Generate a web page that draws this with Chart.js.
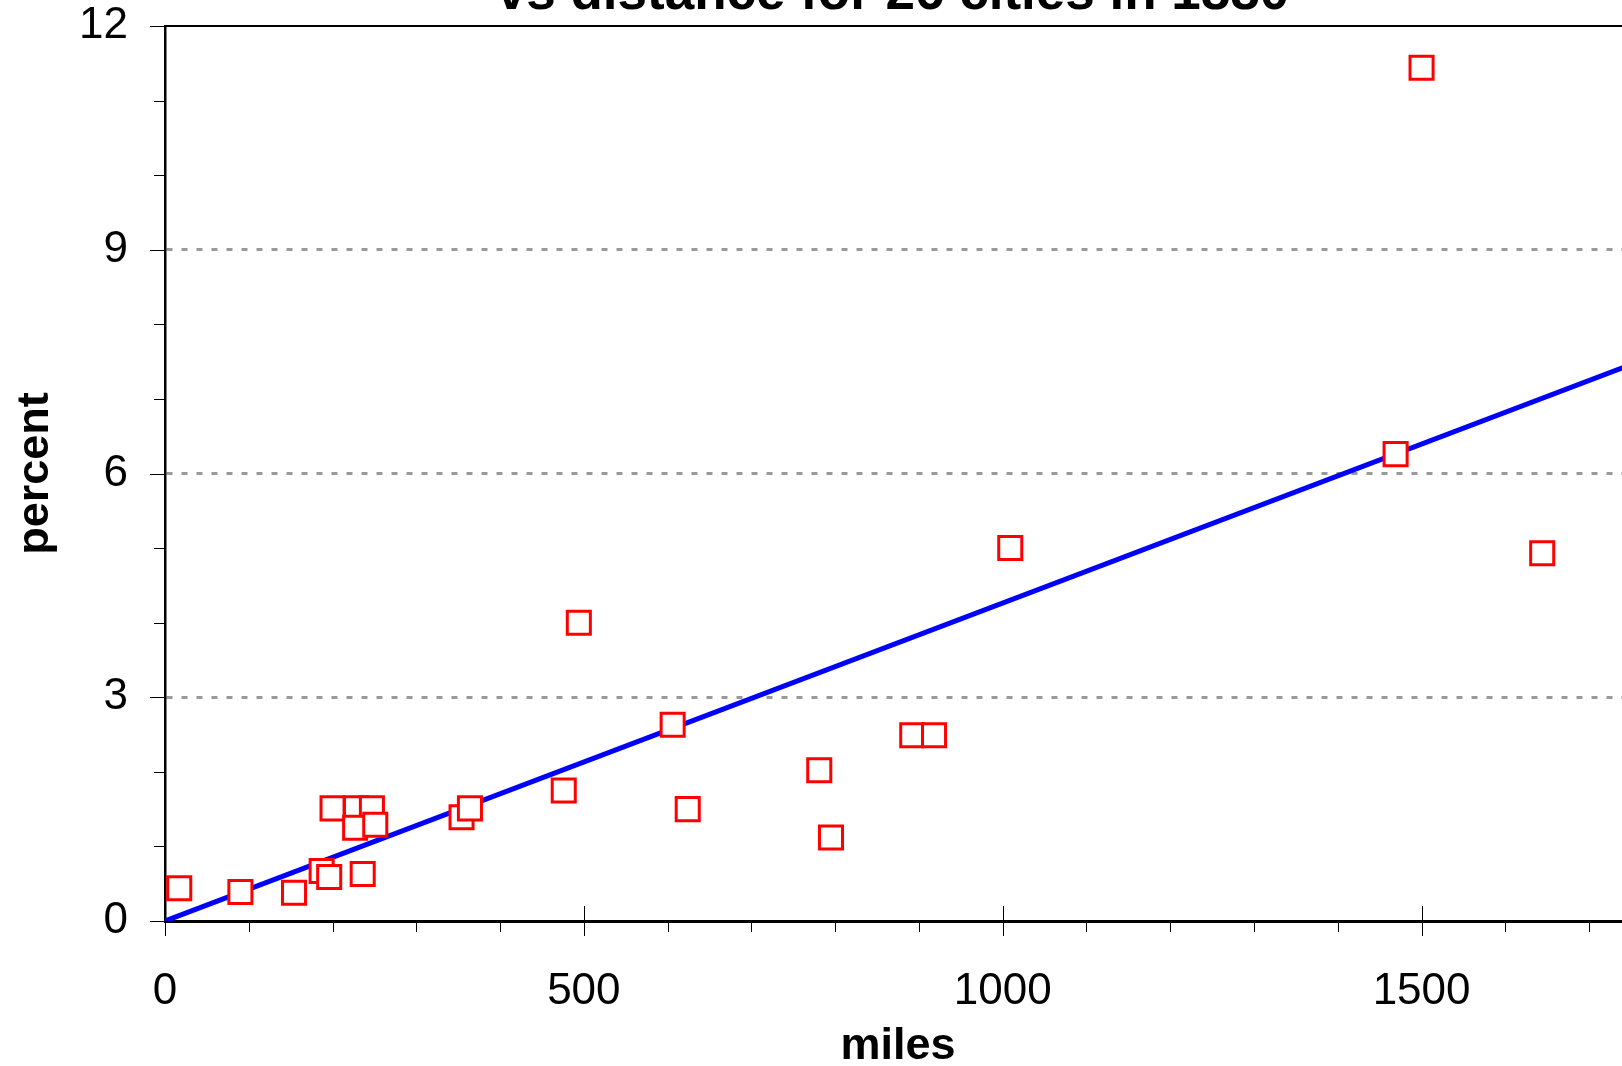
<!DOCTYPE html>
<html>
<head>
<meta charset="utf-8">
<title>percent vs miles</title>
<script src="https://cdn.jsdelivr.net/npm/chart.js@4.4.1/dist/chart.umd.min.js"></script>
<style>
  html, body { margin: 0; padding: 0; background: #fff; overflow: hidden; }
  body { width: 1622px; height: 1066px; position: relative; }
  #myChart { position: absolute; left: 0; top: -60px; }
</style>
</head>
<body>
<canvas id="myChart" width="1786" height="1126"></canvas>
<script>
// distance (miles) and percent for each city
const miles = [17, 90, 154, 187, 196, 236, 200, 228, 247, 227, 251, 354, 364, 476, 494, 606, 624, 781, 795, 892, 918, 1009, 1469, 1500, 1644];
const percent = [0.44, 0.39, 0.38, 0.67, 0.59, 0.63, 1.51, 1.51, 1.51, 1.25, 1.29, 1.39, 1.51, 1.75, 4.00, 2.63, 1.50, 2.02, 1.12, 2.49, 2.49, 5.00, 6.26, 11.44, 4.93];

// fitted line, just its two ends
const fitMiles = [0, 1750];
const fitPercent = [0, 7.46];

// ticks and labels
const xTicks = [0, 100, 200, 300, 400, 500, 600, 700, 800, 900, 1000, 1100, 1200, 1300, 1400, 1500, 1600, 1700];
const xLabels = [0, 500, 1000, 1500];
const yTicks = [0, 1, 2, 3, 4, 5, 6, 7, 8, 9, 10, 11, 12];
const yLabels = [0, 3, 6, 9, 12];
const yDashed = [3, 6, 9];

const titleText = 'vs distance for 26 cities in 1880';
const xTitle = 'miles';
const yTitle = 'percent';

Chart.defaults.font.family = '"Liberation Sans", Arial, Helvetica, sans-serif';
Chart.defaults.color = '#000';

const ctx = document.getElementById('myChart');

// tick marks (long ones at labels) and the top frame line
const tickMarks = {
  id: 'tickMarks',
  beforeDatasetsDraw(chart) {
    const c = chart.ctx;
    const area = chart.chartArea;
    const x = chart.scales.x;
    const y = chart.scales.y;
    c.save();
    c.strokeStyle = '#000';
    c.lineWidth = 1;
    x.ticks.forEach(function(t) {
      const px = Math.round(x.getPixelForValue(t.value)) + 0.5;
      const major = xLabels.includes(t.value);
      c.beginPath();
      c.moveTo(px, area.bottom - (major ? 15 : 0));
      c.lineTo(px, area.bottom + (major ? 15 : 11));
      c.stroke();
    });
    y.ticks.forEach(function(t) {
      const py = Math.round(y.getPixelForValue(t.value)) + 0.5;
      const major = yLabels.includes(t.value);
      c.beginPath();
      c.moveTo(area.left - (major ? 15 : 11), py);
      c.lineTo(area.left, py);
      c.stroke();
    });
    c.lineWidth = 2;
    c.beginPath();
    c.moveTo(area.left, area.top);
    c.lineTo(area.right, area.top);
    c.stroke();
    c.restore();
  }
};

const data = {
  datasets: [
    {
      label: 'cities',
      data: miles.map((m, i) => ({x: m, y: percent[i]})),
      pointStyle: 'rect',
      pointRadius: 16.3,
      pointHoverRadius: 16.3,
      pointBorderWidth: 3,
      pointBorderColor: '#ff0000',
      pointBackgroundColor: '#ffffff',
      order: 0
    },
    {
      label: 'fit',
      data: fitMiles.map((m, i) => ({x: m, y: fitPercent[i]})),
      showLine: true,
      borderColor: '#0000ff',
      borderWidth: 5,
      pointRadius: 0,
      order: 1
    }
  ]
};

const config = {
  type: 'scatter',
  data: data,
  options: {
    responsive: false,
    animation: false,
    layout: { padding: 0 },
    plugins: {
      legend: { display: false },
      tooltip: { enabled: false },
      title: {
        display: true,
        text: titleText,
        color: '#000',
        font: { size: 53, weight: 'bold', lineHeight: 1 },
        padding: { top: 28, bottom: 5 }
      }
    },
    scales: {
      x: {
        type: 'linear',
        min: 0,
        max: 1750,
        afterBuildTicks(scale) { scale.ticks = xTicks.map(v => ({value: v})); },
        afterFit(scale) { scale.height = 145; },
        grid: { display: false, drawTicks: false },
        border: { display: true, color: '#000', width: 3 },
        ticks: {
          autoSkip: false,
          maxRotation: 0,
          padding: 44,
          color: '#000',
          font: { size: 44, lineHeight: 1.2 },
          callback: v => xLabels.includes(v) ? String(v) : ''
        },
        title: {
          display: true,
          text: xTitle,
          color: '#000',
          font: { size: 45, weight: 'bold', lineHeight: 0.87 },
          padding: { top: 0, bottom: 0 }
        }
      },
      y: {
        type: 'linear',
        min: 0,
        max: 12,
        afterBuildTicks(scale) { scale.ticks = yTicks.map(v => ({value: v})); },
        afterFit(scale) { scale.width = 165; },
        grid: {
          drawTicks: false,
          lineWidth: 3,
          color: c => (c.tick && yDashed.includes(c.tick.value)) ? '#999999' : 'rgba(0,0,0,0)'
        },
        border: { display: true, color: '#000', width: 2.5, dash: [6, 9] },
        ticks: {
          autoSkip: false,
          padding: 37,
          color: '#000',
          font: { size: 44 },
          callback: v => yLabels.includes(v) ? String(v) : ''
        },
        title: {
          display: true,
          text: yTitle,
          color: '#000',
          font: { size: 45, weight: 'bold', lineHeight: 1 },
          padding: { top: 13.5, bottom: 0 }
        }
      },
      // right side frame, keeps the plot symmetric so the title sits centred
      yRight: {
        type: 'linear',
        position: 'right',
        min: 0,
        max: 12,
        afterFit(scale) { scale.width = 155; },
        grid: { display: false, drawTicks: false },
        border: { display: true, color: '#000', width: 2 },
        ticks: { display: false }
      }
    }
  },
  plugins: [tickMarks]
};

const myChart = new Chart(ctx, config);
</script>
</body>
</html>
